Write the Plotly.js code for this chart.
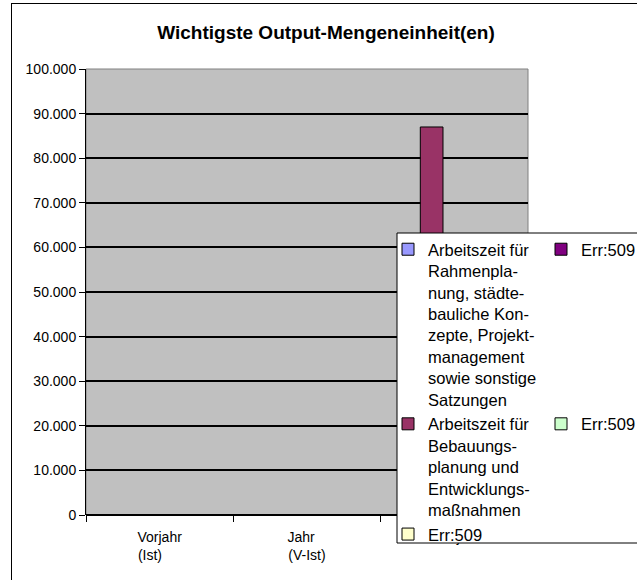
<!DOCTYPE html>
<html>
<head>
<meta charset="utf-8">
<script src="https://cdn.plot.ly/plotly-3.0.1.min.js"></script>
<style>
  html, body { margin: 0; padding: 0; background: #ffffff; overflow: hidden; }
  #chart { position: absolute; left: 0; top: 0; width: 637px; height: 580px; }
  #frame { position: absolute; left: 11px; top: 3px; width: 800px; height: 800px;
           border: 1px solid #000; pointer-events: none; box-sizing: border-box; }
</style>
</head>
<body>
<div id="chart"></div>
<div id="frame"></div>
<script>
// ---- data ----
const categories = ['Vorjahr<br>(Ist)', 'Jahr<br>(V-Ist)', 'Planjahr'];
const seriesNames = [
  'Arbeitszeit für<br>Rahmenpla-<br>nung, städte-<br>bauliche Kon-<br>zepte, Projekt-<br>management<br>sowie sonstige<br>Satzungen',
  'Arbeitszeit für<br>Bebauungs-<br>planung und<br>Entwicklungs-<br>maßnahmen',
  'Err:509',
  'Err:509',
  'Err:509'
];
const rahmenValues   = [null, null, null];
const bebauungValues = [null, null, 87000];
const err1Values     = [null, null, null];
const err2Values     = [null, null, null];
const err3Values     = [null, null, null];
const seriesValues = [rahmenValues, bebauungValues, err1Values, err2Values, err3Values];
const seriesColors = ['#9999FF', '#993366', '#FFFFCC', '#800080', '#CCFFCC'];
const legendRanks  = [1, 3, 5, 2, 4];
const yTicks = [0, 10000, 20000, 30000, 40000, 50000, 60000, 70000, 80000, 90000, 100000];

const FONT = 'Liberation Sans, Arial, sans-serif';
const TICK_SIZE = 14;

// left-align the lines of a multi-line category label by padding shorter lines
function leftAlign(label, size) {
  const ctx = document.createElement('canvas').getContext('2d');
  ctx.font = size + 'px "Liberation Sans", Arial, sans-serif';
  const lines = label.split('<br>');
  if (lines.length < 2) return label;
  const widths = lines.map(l => ctx.measureText(l).width);
  const maxW = Math.max(...widths);
  const nb = ctx.measureText('\u00a0').width || size * 0.278;
  return lines.map((l, i) => l + '\u00a0'.repeat(Math.round((maxW - widths[i]) / nb))).join('<br>');
}
const tickText = categories.map(c => leftAlign(c, TICK_SIZE));

const traces = seriesValues.map((vals, i) => ({
  type: 'bar',
  name: seriesNames[i],
  x: categories,
  y: vals,
  legendrank: legendRanks[i],
  marker: { color: seriesColors[i], line: { color: '#000000', width: 1 } },
  hoverinfo: 'skip'
}));

// plot box in pixels: left 86, right 528, top 69, bottom 515
const L = 86, R = 528, T = 69, B = 515;
const W = 637, H = 580;
const px = x => (x - L) / (R - L);
const py = y => (B - y) / (B - T);

const layout = {
  width: W, height: H,
  margin: { l: L, r: W - R, t: T, b: H - B, pad: 0, autoexpand: false },
  paper_bgcolor: 'rgba(0,0,0,0)',
  plot_bgcolor: '#C0C0C0',
  separators: ',.',
  font: { family: FONT, color: '#000000', size: 13 },
  title: {
    text: '<b>Wichtigste Output-Mengeneinheit(en)</b>',
    font: { family: FONT, size: 19, color: '#000000' },
    x: 326 / W, xref: 'container', xanchor: 'center',
    y: 1 - 32 / H, yref: 'container', yanchor: 'middle'
  },
  barmode: 'group',
  bargap: 0.23,
  bargroupgap: 0,
  xaxis: {
    type: 'category',
    range: [-0.5, 2.5],
    tickmode: 'array',
    tickvals: categories,
    ticktext: tickText,
    tickson: 'boundaries',
    ticks: 'outside', ticklen: 6, tickcolor: '#000000', tickwidth: 1,
    ticklabelstandoff: 12,
    showline: false,
    showgrid: false,
    tickfont: { family: FONT, size: TICK_SIZE, color: '#000000' },
    fixedrange: true
  },
  yaxis: {
    range: [0, 100000],
    tickmode: 'array',
    tickvals: yTicks,
    tickformat: ',d',
    ticks: 'outside', ticklen: 6, tickcolor: '#000000', tickwidth: 1,
    showline: true, linecolor: '#000000', linewidth: 1,
    showgrid: true, gridcolor: '#000000', gridwidth: 2,
    zeroline: true, zerolinecolor: '#000000', zerolinewidth: 2,
    tickfont: { family: FONT, size: 14, color: '#000000' },
    fixedrange: true
  },
  shapes: [
    { type: 'rect', xref: 'paper', yref: 'paper', x0: 0, x1: 1, y0: 0, y1: 1,
      line: { color: '#808080', width: 1 }, fillcolor: 'rgba(0,0,0,0)', layer: 'below' },
    { type: 'rect', xref: 'paper', yref: 'paper',
      x0: px(397), x1: px(700), y0: py(543), y1: py(233),
      line: { color: '#000000', width: 1 }, fillcolor: '#FFFFFF', layer: 'above' }
  ],
  showlegend: true,
  legend: {
    orientation: 'h',
    x: px(388), xanchor: 'left',
    y: py(232), yanchor: 'top',
    entrywidth: 108, entrywidthmode: 'pixels',
    bgcolor: 'rgba(0,0,0,0)', borderwidth: 0,
    font: { family: FONT, size: 16.5, color: '#000000' },
    valign: 'top',
    traceorder: 'normal',
    maxheight: 1
  }
};

Plotly.newPlot('chart', traces, layout, { staticPlot: true, displayModeBar: false });
</script>
</body>
</html>
